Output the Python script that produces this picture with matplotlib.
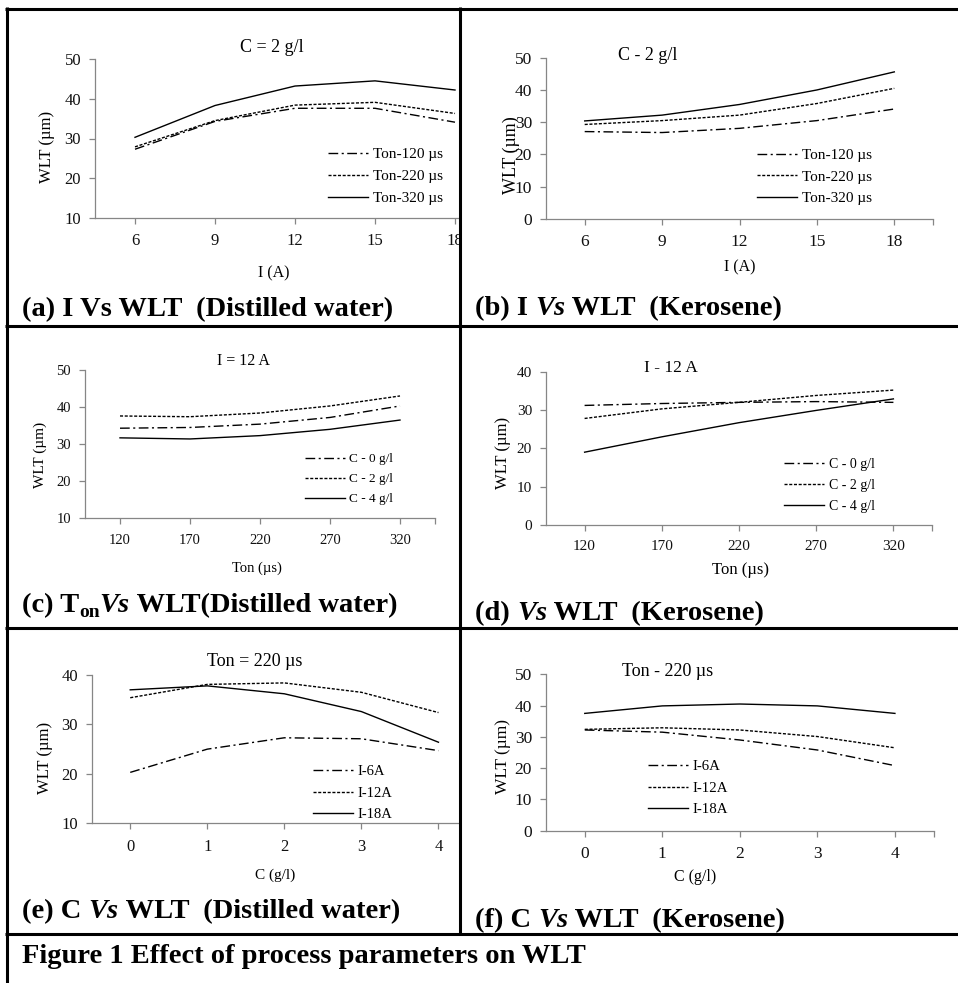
import matplotlib
matplotlib.use("Agg")
import matplotlib.pyplot as plt
from matplotlib.lines import Line2D
from matplotlib.patches import Rectangle

plt.rcParams['font.family'] = ['Liberation Serif', 'DejaVu Serif']

# Data
i_values = [6, 9, 12, 15, 18]
ton_values = [120, 170, 220, 270, 320]
c_values = [0, 1, 2, 3, 4]

ton_labels = ['Ton-120 µs', 'Ton-220 µs', 'Ton-320 µs']
c_labels = ['C - 0 g/l', 'C - 2 g/l', 'C - 4 g/l']
i_labels = ['I-6A', 'I-12A', 'I-18A']

# (a) I vs WLT, distilled water
a_ton120 = [27.3, 34.3, 37.6, 37.6, 34.1]
a_ton220 = [27.9, 34.5, 38.4, 39.1, 36.3]
a_ton320 = [30.3, 38.3, 43.2, 44.5, 42.2]
# (b) I vs WLT, kerosene
b_ton120 = [27.1, 26.8, 28.1, 30.5, 34.1]
b_ton220 = [29.3, 30.5, 32.2, 35.8, 40.5]
b_ton320 = [30.4, 32.2, 35.5, 40.0, 45.6]
# (c) Ton vs WLT, distilled water
c_c0 = [34.3, 34.5, 35.4, 37.2, 40.3]
c_c2 = [37.6, 37.4, 38.4, 40.3, 43.0]
c_c4 = [31.7, 31.4, 32.3, 34.0, 36.5]
# (d) Ton vs WLT, kerosene
d_c0 = [31.2, 31.7, 32.0, 32.2, 32.0]
d_c2 = [27.8, 30.3, 32.0, 33.8, 35.2]
d_c4 = [19.0, 23.0, 26.7, 29.9, 32.9]
# (e) C vs WLT, distilled water
e_i6 = [20.3, 25.0, 27.3, 27.1, 24.7]
e_i12 = [35.4, 38.1, 38.4, 36.5, 32.4]
e_i18 = [37.0, 37.8, 36.2, 32.6, 26.4]
# (f) C vs WLT, kerosene
f_i6 = [32.2, 31.5, 29.0, 25.8, 20.8]
f_i12 = [32.4, 32.9, 32.2, 30.1, 26.5]
f_i18 = [37.5, 39.9, 40.5, 39.9, 37.5]

W, H = 958, 983
fig = plt.figure(figsize=(W / 100, H / 100), dpi=100)


def fx(x):
    return x / W


def fy(y):
    return 1 - y / H


styles = [dict(dashes=(7, 2.5, 1.5, 2.5)), dict(dashes=(2.2, 1.2)), dict(linestyle='-')]
GREY = '#868686'

# panel layout in pixels: axes box, ylim, font sizes, text positions
panels = [
    dict(box=(95, 59, 495, 218), xs=i_values, ys=[a_ton120, a_ton220, a_ton320], labels=ton_labels,
         ylim=(10, 50), fs=12, title='C = 2 g/l', title_xy=(272, 47), tfs=13,
         ylabel='WLT (µm)', ylab_xy=(47, 147), yfs=12, xlabel='I (A)', xlab_xy=(274, 273), xfs=11.5,
         leg_xy=(328, 153), lfs=11, leg_dy=22),
    dict(box=(546, 57.7, 933, 219), xs=i_values, ys=[b_ton120, b_ton220, b_ton320], labels=ton_labels,
         ylim=(0, 50), fs=12.5, title='C - 2 g/l', title_xy=(648, 55), tfs=13,
         ylabel='WLT (µm)', ylab_xy=(511, 155), yfs=13, xlabel='I (A)', xlab_xy=(740, 267), xfs=11.5,
         leg_xy=(757, 154), lfs=11, leg_dy=21.5),
    dict(box=(85, 370, 435, 518.3), xs=ton_values, ys=[c_c0, c_c2, c_c4], labels=c_labels,
         ylim=(10, 50), fs=10.5, title='I = 12 A', title_xy=(243, 361), tfs=11.5,
         ylabel='WLT (µm)', ylab_xy=(40, 455), yfs=11, xlabel='Ton (µs)', xlab_xy=(257, 568), xfs=10.5,
         leg_xy=(305, 458), lfs=9.5, leg_dy=19.5),
    dict(box=(546, 371.7, 932, 525), xs=ton_values, ys=[d_c0, d_c2, d_c4], labels=c_labels,
         ylim=(0, 40), fs=11, title='I - 12 A', title_xy=(671, 368), tfs=12.5,
         ylabel='WLT (µm)', ylab_xy=(503, 453), yfs=12, xlabel='Ton (µs)', xlab_xy=(740, 570), xfs=12,
         leg_xy=(784, 463), lfs=10, leg_dy=20.5),
    dict(box=(91.7, 675, 477, 823.3), xs=c_values, ys=[e_i6, e_i12, e_i18], labels=i_labels,
         ylim=(10, 40), fs=12, title='Ton = 220 µs', title_xy=(255, 661), tfs=13,
         ylabel='WLT (µm)', ylab_xy=(45, 758), yfs=12, xlabel='C (g/l)', xlab_xy=(275, 875), xfs=11,
         leg_xy=(313, 770), lfs=10.5, leg_dy=21.5),
    dict(box=(546, 674.3, 933.7, 830.7), xs=c_values, ys=[f_i6, f_i12, f_i18], labels=i_labels,
         ylim=(0, 50), fs=12.5, title='Ton - 220 µs', title_xy=(668, 671), tfs=13,
         ylabel='WLT (µm)', ylab_xy=(503, 757), yfs=12.5, xlabel='C (g/l)', xlab_xy=(695, 877), xfs=11.5,
         leg_xy=(648, 765), lfs=10.7, leg_dy=21.5),
]

for p in panels:
    x0, y0, x1, y1 = p['box']
    ax = fig.add_axes([fx(x0), fy(y1), (x1 - x0) / W, (y1 - y0) / H])
    ax.set_facecolor('none')
    idx = list(range(len(p['xs'])))
    for ser, lab, st in zip(p['ys'], p['labels'], styles):
        ax.plot(idx, ser, color='black', lw=1.0, label=lab, **st)
    ax.set_xlim(-0.5, len(idx) - 0.5)
    ax.set_ylim(*p['ylim'])
    ax.set_yticks(range(p['ylim'][0], p['ylim'][1] + 1, 10))
    ax.set_xticks(idx)
    ax.set_xticklabels([str(v) for v in p['xs']])
    ax.set_xticks([len(idx) - 0.5], minor=True)
    for s in ['top', 'right']:
        ax.spines[s].set_visible(False)
    for s in ['left', 'bottom']:
        ax.spines[s].set_color(GREY)
        ax.spines[s].set_linewidth(0.9)
    ax.tick_params(axis='both', which='both', direction='out', length=4, width=0.9, color=GREY,
                   labelsize=p['fs'], labelcolor='#111111')
    ax.tick_params(axis='y', pad=6)
    ax.tick_params(axis='x', pad=7)

    lfs = p['lfs']
    lx, ly = p['leg_xy']
    fs_px = lfs * 100 / 72
    ax.legend(loc='upper left', bbox_to_anchor=(fx(lx), fy(ly - 0.36 * fs_px)),
              bbox_transform=fig.transFigure, frameon=False, fontsize=lfs,
              handlelength=2.6 * 11 / lfs, handletextpad=0.35, borderpad=0, borderaxespad=0,
              labelspacing=(p['leg_dy'] - 0.89 * fs_px) / fs_px)

    fig.text(fx(p['title_xy'][0]), fy(p['title_xy'][1]), p['title'], fontsize=p['tfs'],
             ha='center', va='center')
    fig.text(fx(p['ylab_xy'][0]), fy(p['ylab_xy'][1]), p['ylabel'], fontsize=p['yfs'],
             ha='center', va='center', rotation=90)
    fig.text(fx(p['xlab_xy'][0]), fy(p['xlab_xy'][1]), p['xlabel'], fontsize=p['xfs'],
             ha='center', va='center')

# white masks where the left-hand charts run past the cell divider (below the texts)
fig.add_artist(Rectangle((fx(461), fy(285)), 40 / W, 275 / H, transform=fig.transFigure,
                         facecolor='white', edgecolor='none', zorder=1))
fig.add_artist(Rectangle((fx(461), fy(890)), 22 / W, 240 / H, transform=fig.transFigure,
                         facecolor='white', edgecolor='none', zorder=1))

# captions (bold, with italic / subscript pieces)
renderer = fig.canvas.get_renderer()
CAP = 20.5


def rich(x, y, parts):
    cur = x
    for txt, style, dy, size in parts:
        t = fig.text(fx(cur), fy(y + dy), txt, fontsize=size, fontweight='bold', fontstyle=style,
                     ha='left', va='baseline', zorder=6)
        cur += t.get_window_extent(renderer).width


n, it = 'normal', 'italic'
rich(22, 316, [('(a) I Vs WLT  (Distilled water)', n, 0, CAP)])
rich(475, 315, [('(b) I ', n, 0, CAP), ('Vs', it, 0, CAP), (' WLT  (Kerosene)', n, 0, CAP)])
rich(22, 612, [('(c) T', n, 0, CAP), ('on', n, 5, 14), ('Vs', it, 0, CAP),
               (' WLT(Distilled water)', n, 0, CAP)])
rich(475, 620, [('(d) ', n, 0, CAP), ('Vs', it, 0, CAP), (' WLT  (Kerosene)', n, 0, CAP)])
rich(22, 918, [('(e) C ', n, 0, CAP), ('Vs', it, 0, CAP), (' WLT  (Distilled water)', n, 0, CAP)])
rich(475, 927, [('(f) C ', n, 0, CAP), ('Vs', it, 0, CAP), (' WLT  (Kerosene)', n, 0, CAP)])
rich(22, 963, [('Figure 1 Effect of process parameters on WLT', n, 0, CAP)])

# table borders
LW = 2.2
border_lines = [((5, W), (8.5, 8.5)), ((6.5, 6.5), (7, H)), ((460, 460), (7, 934)),
                ((5, W), (325.5, 325.5)), ((5, W), (627.5, 627.5)), ((5, W), (934, 934))]
for xs, ys in border_lines:
    fig.add_artist(Line2D([fx(v) for v in xs], [fy(v) for v in ys], transform=fig.transFigure,
                          color='black', lw=LW, zorder=7, solid_capstyle='butt'))

fig.savefig('out.png', dpi=100)
